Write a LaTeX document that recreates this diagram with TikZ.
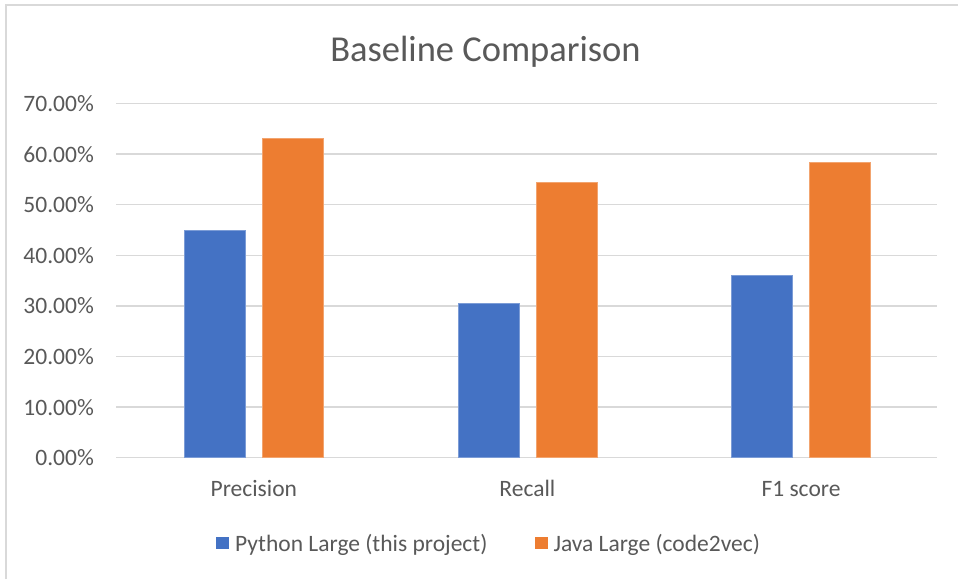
\documentclass[tikz,border=0pt]{standalone}
\usepackage{fontspec}
\setmainfont{Carlito}
\usepackage{tikz}
\definecolor{pyblue}{HTML}{4472C4}
\definecolor{javaorange}{HTML}{ED7D31}
\definecolor{gridgray}{HTML}{D9D9D9}
\definecolor{labelgray}{HTML}{595959}
\tikzset{
  gridline/.style={gridgray, line width=1.3pt},
  ticklabel/.style={labelgray, inner sep=0pt, font=\fontsize{23.5}{28}\selectfont},
  pybar/.style={fill=pyblue, draw=pyblue!70!white, line width=0.8pt},
  javabar/.style={fill=javaorange, draw=javaorange!70!white, line width=0.8pt},
}

\begin{document}
\begin{tikzpicture}[x=1pt,y=1pt]
\useasboundingbox (0,0) rectangle (958,579);
\fill [white] (0,0) rectangle (958,579);
% chart frame (cut at right and bottom)
\draw [gridgray, line width=1.6pt] (6,0) -- (6,574) -- (958,574);
% title
\node [labelgray, inner sep=0pt, anchor=base, font=\fontsize{36.5}{40}\selectfont] (title) at (485.5,517.3) {Baseline Comparison};
% grid lines and axis labels
\draw [gridline] (116,121.3) -- (937,121.3);
\node [ticklabel, anchor=base east] (y0) at (94,113.3) {0.00\%};
\draw [gridline] (116,171.9) -- (937,171.9);
\node [ticklabel, anchor=base east] (y10) at (94,163.9) {10.00\%};
\draw [gridline] (116,222.5) -- (937,222.5);
\node [ticklabel, anchor=base east] (y20) at (94,214.5) {20.00\%};
\draw [gridline] (116,273.1) -- (937,273.1);
\node [ticklabel, anchor=base east] (y30) at (94,265.1) {30.00\%};
\draw [gridline] (116,323.7) -- (937,323.7);
\node [ticklabel, anchor=base east] (y40) at (94,315.7) {40.00\%};
\draw [gridline] (116,374.3) -- (937,374.3);
\node [ticklabel, anchor=base east] (y50) at (94,366.3) {50.00\%};
\draw [gridline] (116,424.9) -- (937,424.9);
\node [ticklabel, anchor=base east] (y60) at (94,416.9) {60.00\%};
\draw [gridline] (116,475.5) -- (937,475.5);
\node [ticklabel, anchor=base east] (y70) at (94,467.5) {70.00\%};
% bars
\draw [pybar] (184.3,121.3) rectangle (245.3,348.5);
\draw [javabar] (262.3,121.3) rectangle (323.3,440.1);
\draw [pybar] (457.9,121.3) rectangle (518.9,275.6);
\draw [javabar] (535.9,121.3) rectangle (596.9,396.1);
\draw [pybar] (731.5,121.3) rectangle (792.5,304.0);
\draw [javabar] (809.5,121.3) rectangle (870.5,416.3);
% category labels
\node [ticklabel, anchor=base] (precision) at (253.8,83) {Precision};
\node [ticklabel, anchor=base] (recall) at (527.4,83) {Recall};
\node [ticklabel, anchor=base] (fscore) at (801,83) {F1 score};
% legend
\fill [pyblue] (216,30) rectangle (229.3,42.3);
\node [ticklabel, anchor=base west] (pylegend) at (235,28) {Python Large (this project)};
\fill [javaorange] (535,30) rectangle (548.3,42.3);
\node [ticklabel, anchor=base west] (javalegend) at (553.3,28) {Java Large (code2vec)};
\end{tikzpicture}
\end{document}
